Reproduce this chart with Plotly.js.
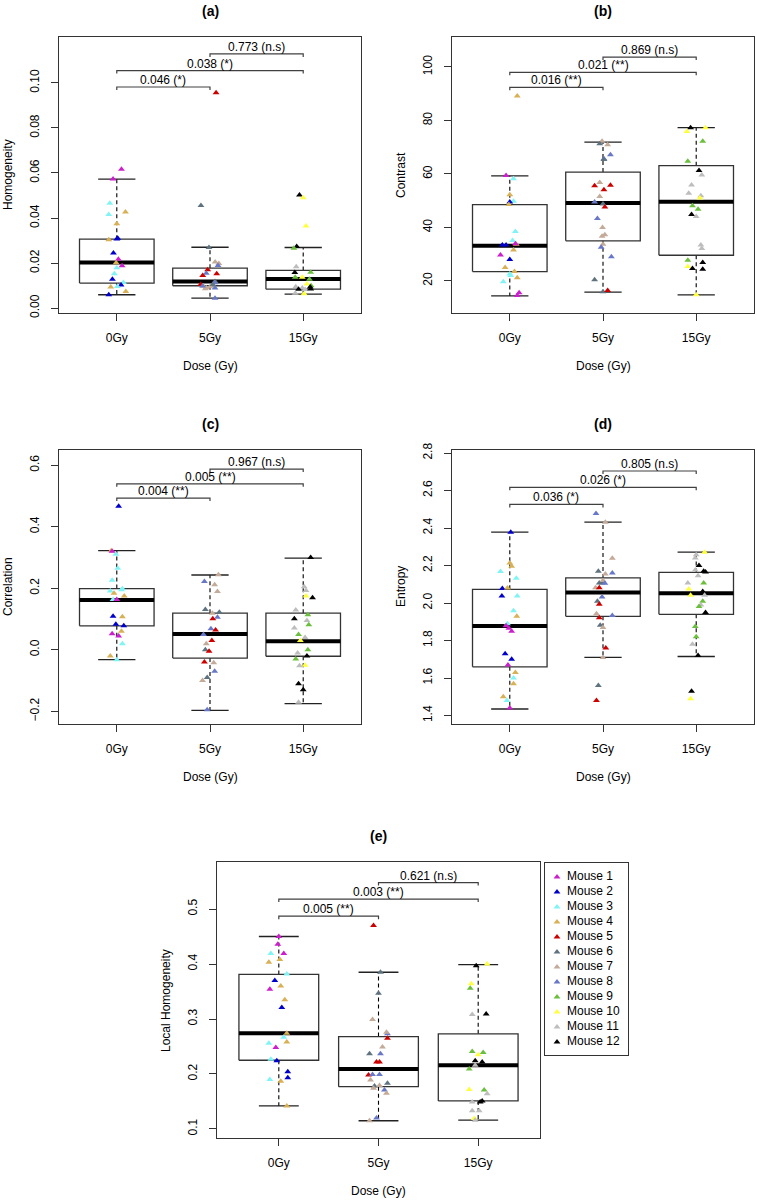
<!DOCTYPE html>
<html>
<head>
<meta charset="utf-8">
<script src="https://cdn.plot.ly/plotly-3.0.1.min.js"></script>
<style>html,body{margin:0;padding:0;background:#fff;}#chart{width:757px;height:1200px;}</style>
</head>
<body>
<div id="chart"></div>
<script>
// ---------------- data ----------------
const doses = ['0Gy', '5Gy', '15Gy'];
const mice = ['Mouse 1','Mouse 2','Mouse 3','Mouse 4','Mouse 5','Mouse 6','Mouse 7','Mouse 8','Mouse 9','Mouse 10','Mouse 11','Mouse 12'];
const mouseColors = ['#cc1fcc','#0000cd','#80f4f4','#d8b055','#cd0000','#5e7380','#c4aa98','#6878c8','#6cbf3e','#ffff40','#bdbdbd','#000000'];

// points: [mouse, jitter, value]
const hom0 = [[1,0.05,0.0616],[1,-0.04,0.0573],[3,-0.075,0.0465],[4,0.093,0.0427],[3,-0.086,0.0415],[4,0.0,0.0374],[4,-0.086,0.0303],[2,0.0,0.0307],[2,0.01,0.0310],[2,-0.036,0.0244],[1,0.017,0.0217],[4,-0.007,0.0201],[1,0.057,0.0188],[3,0.0,0.0179],[3,-0.026,0.0152],[2,-0.047,0.0128],[3,0.071,0.0114],[2,0.046,0.0102],[3,0.006,0.0096],[4,-0.065,0.0094],[4,0.097,0.0074],[2,-0.086,0.0059]];
const hom5 = [[5,0.065,0.0956],[6,-0.097,0.0455],[6,-0.011,0.0269],[7,0.055,0.0204],[7,0.095,0.0198],[8,0.086,0.0189],[5,-0.025,0.0170],[8,-0.04,0.0155],[5,0.072,0.0152],[5,-0.078,0.0145],[6,0.054,0.0118],[8,0.05,0.0112],[5,-0.1,0.0105],[7,-0.07,0.0097],[7,-0.04,0.0090],[7,0.0,0.0095],[6,0.03,0.0105],[7,-0.05,0.0086],[8,-0.08,0.0098],[8,0.054,0.0089],[8,0.054,0.0044]];
const hom15 = [[12,-0.04,0.0502],[10,0.0,0.0490],[10,0.03,0.0364],[12,-0.07,0.0273],[9,-0.1,0.0266],[11,-0.075,0.0183],[12,-0.09,0.0158],[9,0.08,0.0159],[9,-0.086,0.0137],[10,-0.01,0.0137],[9,0.067,0.0128],[10,0.04,0.0107],[11,-0.08,0.0095],[9,0.085,0.0099],[11,-0.01,0.0089],[12,0.075,0.0093],[12,-0.05,0.0084],[11,0.02,0.0082],[12,0.08,0.0085],[11,-0.085,0.0066],[10,0.01,0.0063]];
// box stats per dose: [lower whisker, Q1, median, Q3, upper whisker]
const homBox = [[0.0059,0.0111,0.0202,0.0306,0.0573],[0.0044,0.0099,0.0118,0.0177,0.0270],[0.0062,0.0084,0.0129,0.0167,0.0269]];
const homBracketY = [0.0982, 0.1055, 0.1129];
const homP = ['0.046 (*)', '0.038 (*)', '0.773 (n.s)'];

const con0 = [[4,0.08,89.1],[1,-0.04,59.4],[3,0.04,58.2],[4,0.0,52.2],[3,0.04,49.8],[2,0.0,49.5],[4,-0.01,48.6],[3,0.06,38.5],[3,0.03,35.1],[2,-0.08,33.4],[2,-0.04,33.4],[4,0.07,33.7],[1,0.06,33.9],[4,0.04,31.6],[1,-0.1,29.7],[2,0.0,28.0],[4,-0.05,25.0],[4,0.05,23.5],[3,0.0,22.6],[3,0.01,22.0],[4,0.08,21.2],[3,-0.07,19.7],[1,0.1,15.6],[1,0.08,14.5]];
const con5 = [[7,-0.01,72.2],[6,-0.035,71.3],[7,0.05,70.9],[8,0.08,67.2],[8,0.01,65.7],[6,0.01,65.4],[7,-0.035,56.8],[5,-0.09,55.6],[5,0.08,55.8],[5,0.01,54.1],[7,-0.035,51.6],[8,-0.09,49.5],[6,0.0,48.8],[5,0.02,47.6],[8,-0.06,43.3],[7,-0.005,40.0],[7,0.02,37.3],[7,-0.01,36.7],[7,0.0,33.7],[8,-0.02,32.6],[8,0.09,29.0],[6,-0.09,20.4],[6,0.0,15.9],[5,0.05,16.4]];
const con15 = [[12,-0.06,77.3],[10,0.1,77.3],[10,-0.1,75.9],[9,0.07,72.2],[9,-0.09,64.7],[12,0.03,61.3],[11,0.06,59.6],[11,-0.05,55.9],[11,-0.08,52.8],[11,0.05,51.8],[10,0.04,51.0],[9,-0.04,48.1],[9,0.02,46.8],[12,-0.05,44.8],[11,0.0,44.1],[11,0.05,33.4],[11,0.06,32.1],[9,-0.09,27.7],[12,0.07,26.9],[10,-0.09,25.4],[12,-0.04,24.6],[12,0.07,24.4],[10,0.0,14.8]];
const conBox = [[14.4,23.5,33.1,48.5,59.3],[15.8,35.0,49.1,60.7,71.9],[14.8,29.6,49.6,63.1,77.3]];
const conBracketY = [92.4, 98.0, 103.7];
const conP = ['0.016 (**)', '0.021 (**)', '0.869 (n.s)'];

const cor0 = [[2,0.02,0.466],[4,-0.06,0.322],[1,-0.05,0.320],[3,-0.01,0.310],[3,0.01,0.265],[3,-0.05,0.226],[3,-0.07,0.191],[3,0.06,0.198],[3,0.05,0.195],[4,-0.03,0.184],[4,0.08,0.175],[3,-0.04,0.163],[1,0.0,0.163],[2,-0.04,0.109],[4,0.06,0.107],[2,-0.01,0.083],[2,0.075,0.078],[4,0.05,0.060],[1,-0.05,0.052],[1,0.02,0.045],[3,0.06,0.020],[4,-0.07,-0.020],[3,0.0,-0.032]];
const cor5 = [[7,0.09,0.244],[8,-0.06,0.222],[7,0.05,0.211],[7,0.08,0.189],[6,-0.05,0.131],[6,0.1,0.122],[7,0.025,0.119],[8,0.08,0.106],[5,0.03,0.101],[8,0.01,0.068],[5,0.06,0.064],[8,-0.07,0.050],[5,0.02,0.030],[7,-0.04,0.020],[6,-0.05,0.000],[5,-0.01,-0.005],[5,-0.06,-0.040],[7,0.04,-0.042],[8,0.05,-0.070],[6,-0.03,-0.090],[7,-0.08,-0.100],[8,-0.03,-0.195]];
const cor15 = [[12,0.08,0.300],[11,0.01,0.205],[11,0.03,0.193],[10,0.03,0.175],[12,0.1,0.169],[11,-0.08,0.129],[9,0.05,0.114],[12,-0.095,0.101],[11,0.04,0.095],[9,0.06,0.081],[11,-0.095,0.071],[9,-0.05,0.050],[11,0.02,0.040],[10,-0.03,0.030],[9,0.05,0.000],[11,-0.06,-0.010],[12,0.04,-0.020],[9,-0.08,-0.030],[10,0.02,-0.050],[11,-0.04,-0.052],[12,-0.05,-0.110],[12,0.0,-0.130],[11,-0.05,-0.170]];
const corBox = [[-0.032,0.078,0.162,0.199,0.322],[-0.197,-0.027,0.051,0.119,0.243],[-0.175,-0.021,0.028,0.119,0.298]];
const corBracketY = [0.493, 0.539, 0.587];
const corP = ['0.004 (**)', '0.005 (**)', '0.967 (n.s)'];

const ent0 = [[2,0.01,2.378],[4,0.0,2.214],[4,0.02,2.196],[3,-0.1,2.168],[3,0.07,2.132],[2,-0.08,2.077],[4,-0.025,2.080],[2,-0.085,2.037],[3,0.08,2.037],[3,0.04,1.959],[4,0.075,1.929],[3,-0.025,1.890],[1,-0.04,1.879],[1,-0.01,1.866],[1,0.02,1.85],[2,-0.05,1.73],[2,0.02,1.70],[1,-0.02,1.67],[4,0.06,1.63],[3,0.04,1.60],[4,0.04,1.57],[4,-0.07,1.50],[3,-0.03,1.48],[1,0.0,1.44]];
const ent5 = [[8,-0.075,2.478],[7,0.025,2.431],[7,0.1,2.239],[6,-0.05,2.169],[8,0.1,2.160],[7,0.025,2.155],[6,-0.04,2.107],[6,-0.01,2.107],[7,0.0,2.12],[8,0.02,2.105],[7,-0.08,2.082],[5,-0.04,2.082],[8,-0.01,2.032],[6,-0.06,2.009],[5,-0.04,1.993],[7,-0.07,1.943],[5,-0.04,1.922],[8,0.1,1.934],[6,-0.03,1.881],[7,0.0,1.87],[5,0.03,1.76],[7,0.0,1.71],[6,-0.05,1.56],[5,-0.07,1.48]];
const ent15 = [[10,0.09,2.271],[11,0.0,2.257],[11,-0.01,2.24],[12,0.03,2.200],[11,-0.01,2.176],[12,0.08,2.169],[12,0.1,2.165],[11,0.02,2.146],[11,-0.09,2.107],[9,0.08,2.107],[10,-0.08,2.075],[10,-0.06,2.041],[12,0.07,2.061],[11,0.09,2.041],[9,0.07,2.009],[11,0.05,1.99],[9,0.03,1.982],[12,0.1,1.949],[9,-0.01,1.875],[9,0.0,1.82],[11,-0.04,1.78],[12,0.02,1.72],[12,-0.05,1.53],[10,-0.06,1.49]];
const entBox = [[1.435,1.66,1.877,2.073,2.378],[1.71,1.929,2.056,2.134,2.431],[1.715,1.940,2.052,2.163,2.271]];
const entBracketY = [2.526, 2.617, 2.704];
const entP = ['0.036 (*)', '0.026 (*)', '0.805 (n.s)'];

const loc0 = [[1,0.0,0.450],[1,-0.01,0.436],[3,-0.08,0.419],[1,0.05,0.419],[4,0.01,0.408],[4,-0.1,0.403],[3,0.08,0.382],[2,-0.04,0.370],[4,0.02,0.360],[1,-0.09,0.354],[4,0.06,0.335],[2,0.03,0.321],[4,0.08,0.274],[3,0.05,0.267],[4,0.08,0.258],[3,-0.1,0.256],[1,-0.03,0.248],[3,-0.08,0.227],[2,-0.02,0.224],[2,0.09,0.204],[3,-0.09,0.190],[2,0.09,0.193],[4,0.02,0.187],[4,0.08,0.142]];
const loc5 = [[5,-0.05,0.470],[6,0.02,0.385],[6,0.0,0.347],[7,-0.06,0.299],[8,0.09,0.273],[7,0.08,0.276],[5,0.09,0.265],[7,0.04,0.249],[6,-0.09,0.237],[8,0.02,0.237],[5,-0.02,0.222],[5,0.01,0.222],[5,-0.1,0.198],[8,-0.06,0.199],[8,0.01,0.199],[7,-0.08,0.189],[6,0.09,0.183],[6,-0.04,0.178],[7,0.01,0.179],[7,-0.05,0.174],[8,0.06,0.171],[7,0.08,0.165],[8,-0.02,0.120],[7,-0.09,0.115]];
const loc15 = [[12,-0.02,0.397],[10,0.09,0.400],[10,-0.07,0.364],[9,-0.08,0.356],[11,-0.06,0.308],[12,0.08,0.309],[9,-0.06,0.241],[9,0.05,0.239],[10,0.0,0.235],[12,-0.03,0.224],[12,0.04,0.222],[11,-0.03,0.216],[9,-0.09,0.209],[10,-0.09,0.172],[9,0.06,0.171],[11,0.09,0.164],[12,0.04,0.151],[12,0.02,0.149],[11,-0.06,0.149],[11,-0.06,0.133],[11,0.01,0.133],[10,-0.04,0.119],[11,-0.03,0.116]];
const locBox = [[0.142,0.225,0.274,0.381,0.450],[0.115,0.177,0.209,0.268,0.385],[0.116,0.151,0.216,0.273,0.399]];
const locBracketY = [0.487, 0.518, 0.548];
const locP = ['0.005 (**)', '0.003 (**)', '0.621 (n.s)'];

const bracketPairs = [[1,2],[1,3],[2,3]];

// ---------------- layout config ----------------
const W = 757, H = 1200;
const FONT = 'Liberation Sans, Arial, Helvetica, sans-serif';
const panels = [
  {title:'(a)', ylab:'Homogeneity', pts:[hom0,hom5,hom15], box:homBox, br:homBracketY, p:homP, range:[-0.0022,0.1204], ticks:[0,0.02,0.04,0.06,0.08,0.10], fmt:'.2f', px:[59,361], py:[37,313]},
  {title:'(b)', ylab:'Contrast', pts:[con0,con5,con15], box:conBox, br:conBracketY, p:conP, range:[8,111.2], ticks:[20,40,60,80,100], fmt:'d', px:[452,754], py:[37,313]},
  {title:'(c)', ylab:'Correlation', pts:[cor0,cor5,cor15], box:corBox, br:corBracketY, p:corP, range:[-0.241,0.649], ticks:[-0.2,0,0.2,0.4,0.6], fmt:'.1f', px:[59,361], py:[450,724]},
  {title:'(d)', ylab:'Entropy', pts:[ent0,ent5,ent15], box:entBox, br:entBracketY, p:entP, range:[1.355,2.816], ticks:[1.4,1.6,1.8,2.0,2.2,2.4,2.6,2.8], fmt:'.1f', px:[452,754], py:[450,724]},
  {title:'(e)', ylab:'Local Homogeneity', pts:[loc0,loc5,loc15], box:locBox, br:locBracketY, p:locP, range:[0.0836,0.5855], ticks:[0.1,0.2,0.3,0.4,0.5], fmt:'.1f', px:[217,540], py:[862,1138]}
];

const traces = [];
const annotations = [];
const layout = {
  width: W, height: H,
  margin: {l:0, r:0, t:0, b:0},
  paper_bgcolor: '#ffffff', plot_bgcolor: '#ffffff',
  font: {family: FONT, size: 12, color: '#000'},
  showlegend: false,
  annotations: annotations
};

const AX = '#333333';
const HW = 0.4, CAP = 0.2;

panels.forEach((P, i) => {
  const s = i === 0 ? '' : String(i + 1);
  const xa = 'x' + s, ya = 'y' + s;
  const dx = [P.px[0] / W, P.px[1] / W];
  const dy = [1 - P.py[1] / H, 1 - P.py[0] / H];
  layout['xaxis' + s] = {
    domain: dx, range: [0.38, 3.62], anchor: ya,
    tickvals: [1, 2, 3], ticktext: doses,
    ticks: 'outside', ticklen: 7, tickcolor: AX, tickwidth: 1,
    showline: true, mirror: true, linecolor: AX, linewidth: 1,
    showgrid: false, zeroline: false, ticklabelstandoff: 7,
    tickfont: {family: FONT, size: 12, color: '#000'}, fixedrange: true
  };
  layout['yaxis' + s] = {
    domain: dy, range: P.range, anchor: xa,
    tickvals: P.ticks, tickformat: P.fmt, tickangle: -90,
    ticks: 'outside', ticklen: 7, tickcolor: AX, tickwidth: 1,
    showline: true, mirror: true, linecolor: AX, linewidth: 1,
    showgrid: false, zeroline: false, ticklabelstandoff: 7,
    tickfont: {family: FONT, size: 12, color: '#000'}, fixedrange: true
  };

  // boxes
  const bx = [], by = [], wx = [], wy = [], cx = [], cy = [], mx = [], my = [];
  P.box.forEach((b, g) => {
    const c = g + 1;
    const [lo, q1, med, q3, up] = b;
    bx.push(c - HW, c + HW, c + HW, c - HW, c - HW, null);
    by.push(q1, q1, q3, q3, q1, null);
    wx.push(c, c, null, c, c, null);
    wy.push(q3, up, null, q1, lo, null);
    cx.push(c - CAP, c + CAP, null, c - CAP, c + CAP, null);
    cy.push(up, up, null, lo, lo, null);
    mx.push(c - HW, c + HW, null);
    my.push(med, med, null);
  });
  traces.push({type:'scatter', mode:'lines', x:wx, y:wy, xaxis:xa, yaxis:ya, hoverinfo:'skip',
    line:{color:'#000', width:1.1, dash:'4px,3px'}});
  traces.push({type:'scatter', mode:'lines', x:bx, y:by, xaxis:xa, yaxis:ya, hoverinfo:'skip',
    line:{color:AX, width:1.3}});
  traces.push({type:'scatter', mode:'lines', x:cx, y:cy, xaxis:xa, yaxis:ya, hoverinfo:'skip',
    line:{color:'#222', width:1.3}});
  traces.push({type:'scatter', mode:'lines', x:mx, y:my, xaxis:xa, yaxis:ya, hoverinfo:'skip',
    line:{color:'#000', width:4}});

  // points
  const px = [], py = [], pc = [];
  P.pts.forEach((arr, g) => {
    arr.forEach(r => {
      px.push(g + 1 + r[1]);
      py.push(r[2]);
      pc.push(mouseColors[r[0] - 1]);
    });
  });
  traces.push({type:'scatter', mode:'markers', x:px, y:py, xaxis:xa, yaxis:ya, hoverinfo:'skip',
    marker:{symbol:'triangle-up', size:6, color:pc, line:{width:0}}});

  // brackets
  const tick = (P.range[1] - P.range[0]) * 3 / (P.py[1] - P.py[0]);
  const kx = [], ky = [];
  bracketPairs.forEach((pr, k) => {
    const y = P.br[k];
    kx.push(pr[0], pr[0], pr[1], pr[1], null);
    ky.push(y - tick, y, y, y - tick, null);
    annotations.push({xref:xa, yref:ya, x:(pr[0] + pr[1]) / 2, y:y, text:P.p[k],
      showarrow:false, xanchor:'center', yanchor:'bottom', yshift:-1, borderpad:0,
      font:{family:FONT, size:12, color:'#000'}});
  });
  traces.push({type:'scatter', mode:'lines', x:kx, y:ky, xaxis:xa, yaxis:ya, hoverinfo:'skip',
    line:{color:'#404040', width:1.2}});

  // titles
  annotations.push({xref:'paper', yref:'paper', x:(dx[0] + dx[1]) / 2, y:dy[1], yshift:26,
    xanchor:'center', yanchor:'middle', showarrow:false, text:'<b>' + P.title + '</b>',
    font:{family:FONT, size:14, color:'#000'}});
  annotations.push({xref:'paper', yref:'paper', x:dx[0], y:(dy[0] + dy[1]) / 2, xshift:-51,
    xanchor:'center', yanchor:'middle', showarrow:false, text:P.ylab, textangle:-90,
    font:{family:FONT, size:12, color:'#000'}});
  annotations.push({xref:'paper', yref:'paper', x:(dx[0] + dx[1]) / 2, y:dy[0], yshift:-53,
    xanchor:'center', yanchor:'middle', showarrow:false, text:'Dose (Gy)',
    font:{family:FONT, size:12, color:'#000'}});
});

// manual legend in its own small axes
const LX = [545, 628], LY = [863, 1055];
layout.xaxis6 = {domain:[LX[0] / W, LX[1] / W], range:[0, LX[1] - LX[0]], anchor:'y6',
  showline:true, mirror:true, linecolor:AX, linewidth:1, showticklabels:false, ticks:'',
  showgrid:false, zeroline:false, fixedrange:true};
layout.yaxis6 = {domain:[1 - LY[1] / H, 1 - LY[0] / H], range:[LY[1] - LY[0], 0], anchor:'x6',
  showline:true, mirror:true, linecolor:AX, linewidth:1, showticklabels:false, ticks:'',
  showgrid:false, zeroline:false, fixedrange:true};
const legY = mice.map((m, i) => 14 + 15 * i);
traces.push({type:'scatter', mode:'markers', x:mice.map(() => 12), y:legY, xaxis:'x6', yaxis:'y6',
  hoverinfo:'skip', marker:{symbol:'triangle-up', size:6, color:mouseColors, line:{width:0}}});
traces.push({type:'scatter', mode:'text', x:mice.map(() => 22), y:legY, xaxis:'x6', yaxis:'y6',
  hoverinfo:'skip', text:mice, textposition:'middle right',
  textfont:{family:FONT, size:12, color:'#000'}});

Plotly.newPlot('chart', traces, layout, {staticPlot:true, displayModeBar:false});
</script>
</body>
</html>
